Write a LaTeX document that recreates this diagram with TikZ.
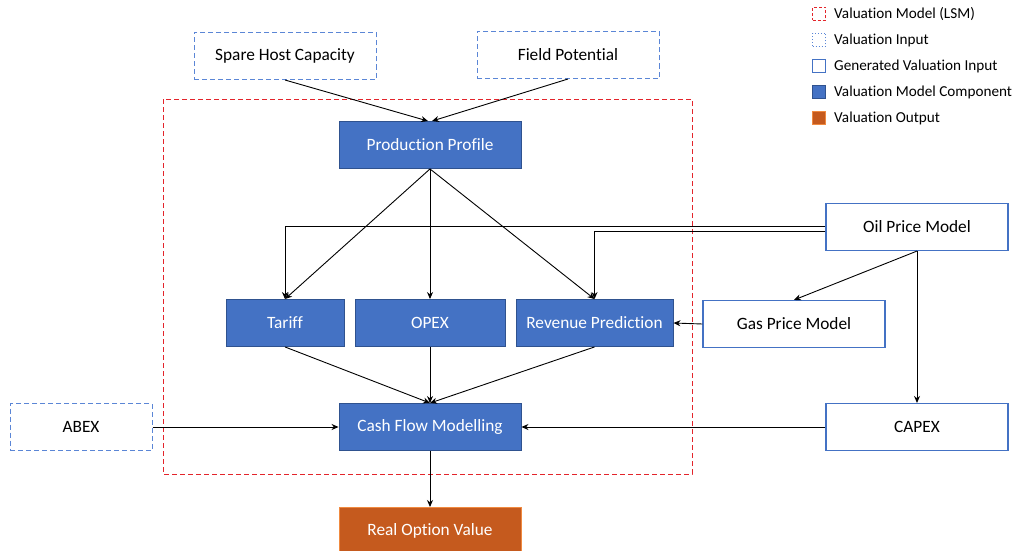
\documentclass[tikz,border=0pt]{standalone}
\usepackage{fontspec}
\setmainfont{Carlito}[Ligatures=NoCommon]
\usetikzlibrary{arrows.meta}
\definecolor{compblue}{HTML}{4472C4}
\definecolor{compedge}{HTML}{2F528F}
\definecolor{inputedge}{HTML}{5B86D6}
\definecolor{lsmred}{HTML}{E3242B}
\definecolor{outfill}{HTML}{C55A1E}
\definecolor{outedge}{HTML}{F08A40}
\begin{document}
\begin{tikzpicture}[x=1pt,y=-1pt,
  box/.style={minimum width=182pt, minimum height=47pt, inner sep=0pt,
              font=\fontsize{17.3}{20}\selectfont},
  component/.style={box, fill=compblue, draw=compedge, line width=0.9pt, text=white},
  input/.style={box, draw=inputedge, dash pattern=on 5pt off 3pt, line width=1pt},
  generated/.style={box, draw=compblue, line width=1.1pt},
  output/.style={box, fill=outfill, draw=outedge, line width=1pt, text=white},
  link/.style={-{Stealth[length=7pt,width=6pt]}, line width=0.9pt},
  legbox/.style={minimum width=13pt, minimum height=13pt, inner sep=0pt},
  legtext/.style={anchor=west, inner sep=0pt, font=\fontsize{15.2}{18}\selectfont},
]
\useasboundingbox (0,0) rectangle (1017,551);

% LSM frame
\draw[lsmred, dash pattern=on 5pt off 3pt, line width=1pt] (163,99) rectangle (692,474);

% inputs
\node[input] (spare) at (285,56) {Spare Host Capacity};
\node[input] (field) at (568,55) {Field Potential};
\node[input, minimum width=142pt] (abex) at (81,427) {ABEX};

% model components
\node[component] (prod) at (430,145) {Production Profile};
\node[component, minimum width=118pt] (tariff) at (285,323) {Tariff};
\node[component, minimum width=150pt] (opex) at (430,323) {OPEX};
\node[component, minimum width=157pt] (revenue) at (594.5,323) {Revenue Prediction};
\node[component] (cash) at (430,427) {Cash Flow Modelling};

% generated inputs
\node[generated] (oil) at (917,227) {Oil Price Model};
\node[generated] (gas) at (794,324) {Gas Price Model};
\node[generated] (capex) at (917,427) {CAPEX};

% output
\node[output] (rov) at (430,531) {Real Option Value};

% connectors
\draw[link] (spare.south) -- ([xshift=-2pt]prod.north);
\draw[link] (field.south) -- ([xshift=2pt]prod.north);
\draw[link] (prod.south) -- (tariff.north);
\draw[link] (prod.south) -- (opex.north);
\draw[link] (prod.south) -- (revenue.north);
\draw[link] ([yshift=0.5pt]oil.west) -| (tariff.north);
\draw[link] ([yshift=-4.5pt]oil.west) -| (revenue.north);
\draw[link] (oil.south) -- (gas.north);
\draw[link] (oil.south) -- (capex.north);
\draw[link] (gas.west) -- (revenue.east);
\draw[link] (tariff.south) -- (cash.north);
\draw[link] (opex.south) -- (cash.north);
\draw[link] (revenue.south) -- (cash.north);
\draw[link] (abex.east) -- (cash.west);
\draw[link] (capex.west) -- (cash.east);
\draw[link] (cash.south) -- (rov.north);

% legend
\node[legbox, draw=lsmred, dash pattern=on 3pt off 2pt, line width=1pt] (lg1) at (819,14) {};
\node[legtext] (lt1) at (834,14) {Valuation Model (LSM)};
\node[legbox, draw=inputedge, dotted, line width=1pt] (lg2) at (819,40) {};
\node[legtext] (lt2) at (834,40) {Valuation Input};
\node[legbox, draw=compblue, line width=1.1pt] (lg3) at (819,66) {};
\node[legtext] (lt3) at (834,66) {Generated Valuation Input};
\node[legbox, fill=compblue, draw=compedge, line width=0.9pt] (lg4) at (819,92) {};
\node[legtext] (lt4) at (834,92) {Valuation Model Component};
\node[legbox, fill=outfill, draw=outedge, line width=1pt] (lg5) at (819,118) {};
\node[legtext] (lt5) at (834,118) {Valuation Output};
\end{tikzpicture}
\end{document}
